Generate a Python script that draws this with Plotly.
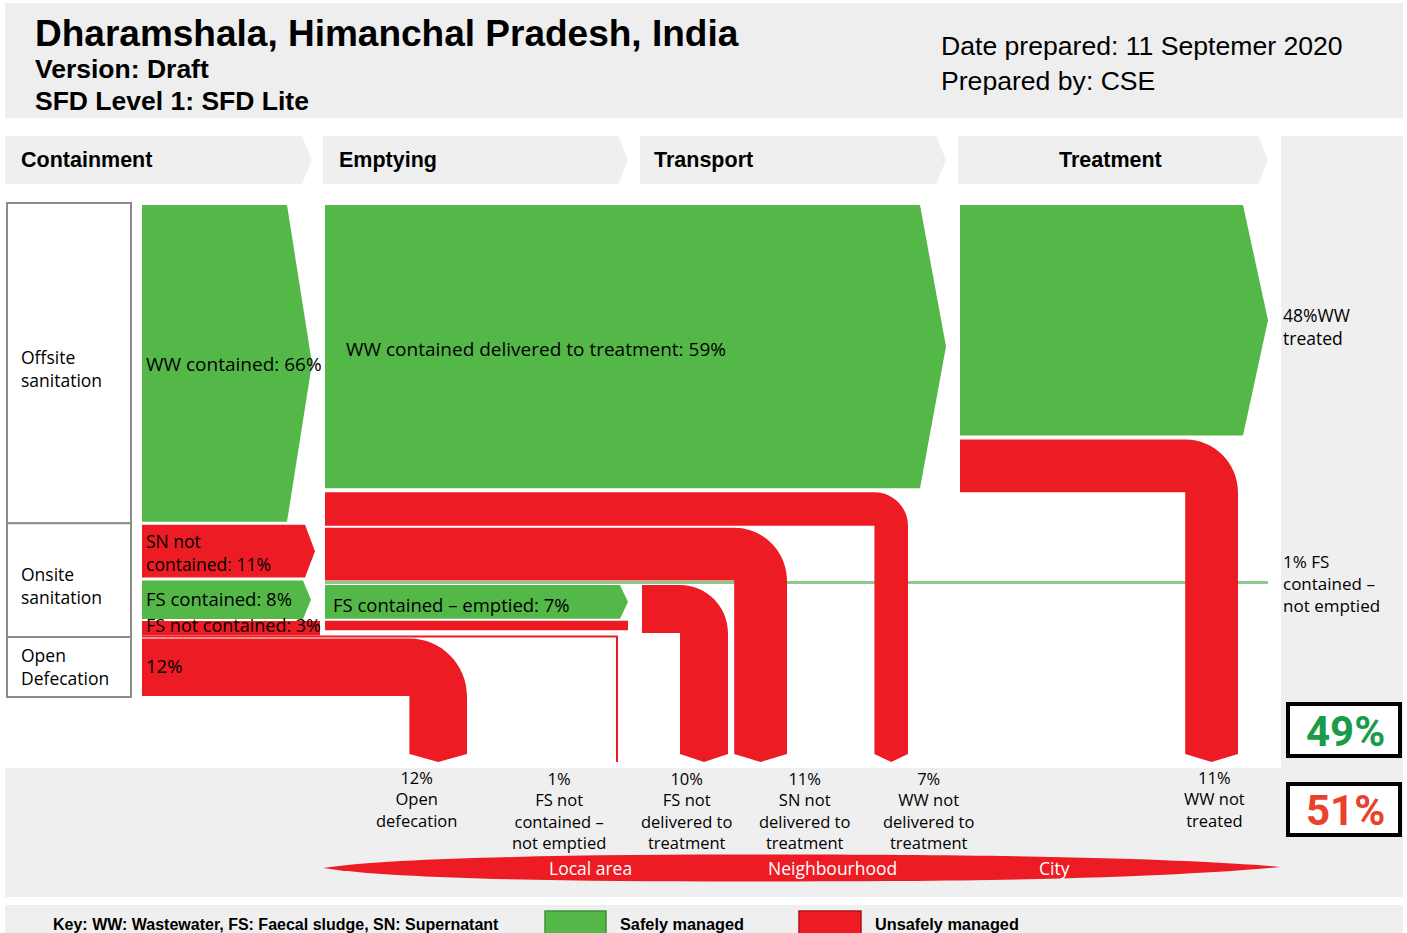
import plotly.graph_objects as go

# ---------------- DATA (percent of population) ----------------
ww_contained = 66
sn_not_contained = 11
fs_contained = 8
fs_not_contained = 3
open_defecation = 12

ww_delivered = 59
ww_not_delivered = 7
fs_emptied = 7
fs_nc_emptied = 2          # FS not contained that is emptied
fs_nc_not_emptied = 1
fs_c_not_emptied = 1

fs_not_delivered = 10
ww_treated = 48
ww_not_treated = 11

safely_managed = 49
unsafely_managed = 51

stage_names = ["Containment", "Emptying", "Transport", "Treatment"]
row_names = [["Offsite", "sanitation"], ["Onsite", "sanitation"], ["Open", "Defecation"]]
outcome_pcts = [open_defecation, fs_nc_not_emptied, fs_not_delivered,
                sn_not_contained, ww_not_delivered, ww_not_treated]
outcome_texts = [["Open", "defecation"],
                 ["FS not", "contained \u2013", "not emptied"],
                 ["FS not", "delivered to", "treatment"],
                 ["SN not", "delivered to", "treatment"],
                 ["WW not", "delivered to", "treatment"],
                 ["WW not", "treated"]]
area_names = ["Local area", "Neighbourhood", "City"]

# ---------------- LAYOUT CONSTANTS ----------------
W, H = 1407, 933
S = 4.8                      # pixels per percent
GREEN = "#54b848"
RED = "#ed1c24"
LGREY = "#efefef"
TITLE_FONT = "Liberation Sans, Arial, sans-serif"
LABEL_FONT = "Open Sans, Noto Sans, sans-serif"
BOLD_FONT = "Liberation Sans, Arial, sans-serif"
PIPE_END = 762

shapes = []
annotations = []


def rect(x0, y0, x1, y1, fill, line=None, lw=0):
    shapes.append(dict(type="rect", xref="x", yref="y", x0=x0, y0=y0, x1=x1, y1=y1,
                       fillcolor=fill, line=dict(color=line or fill, width=lw), layer="below"))


def path(d, fill, line_color=None, lw=0):
    shapes.append(dict(type="path", xref="x", yref="y", path=d, fillcolor=fill,
                       line=dict(color=line_color or fill, width=lw), layer="below"))


def arrow_right(x0, xb, xt, yt, yb, fill):
    ym = (yt + yb) / 2
    path(f"M {x0},{yt} L {xb},{yt} L {xt},{ym} L {xb},{yb} L {x0},{yb} Z", fill)


def pipe(x0, yt, pct, xo, fill=RED):
    t = pct * S
    yb = yt + t
    R = t
    k = 0.552 * R
    xi = xo - t
    d = (f"M {x0},{yt} L {xo - R},{yt} C {xo - R + k},{yt} {xo},{yt + R - k} {xo},{yt + R} "
         f"L {xo},{PIPE_END - 8} L {xo - t / 2},{PIPE_END} L {xi},{PIPE_END - 8} "
         f"L {xi},{yb} L {x0},{yb} Z")
    path(d, fill)
    return yb


def text(s, x, y, size, color="black", family=LABEL_FONT, anchor="left", bold=False):
    if bold:
        s = f"<b>{s}</b>"
    annotations.append(dict(text=s, x=x, y=y, xref="x", yref="y", showarrow=False,
                            xanchor=anchor, yanchor="middle", align=anchor,
                            font=dict(size=size, color=color, family=family)))


def mtext(lines, x, y_first, size, anchor="left", **kw):
    """Multi-line block; y_first is the centre of the first line."""
    n = len(lines)
    yc = y_first + (n - 1) * 1.3 * size / 2
    text("<br>".join(lines), x, yc, size, anchor=anchor, **kw)


# ---------------- BACKGROUND BANDS ----------------
rect(5, 3, 1403, 118, "#eeeeee")
rect(1281, 136, 1403, 768, LGREY)
rect(5, 768, 1403, 897, LGREY)
rect(5, 905, 1403, 933, LGREY)

# header text
text("Dharamshala, Himanchal Pradesh, India", 33, 33, 37, family=TITLE_FONT, bold=True)
text("Version: Draft", 33, 69, 26.5, family=TITLE_FONT, bold=True)
text("SFD Level 1: SFD Lite", 33, 101, 26.5, family=TITLE_FONT, bold=True)
text("Date prepared: 11 Septemer 2020", 939, 46, 26.6, family=TITLE_FONT)
text("Prepared by: CSE", 939, 81, 26.6, family=TITLE_FONT)

# stage header chevrons
stage_x = [(5, 312), (323, 628), (640, 946), (958, 1268)]
for (a, b), name in zip(stage_x, stage_names):
    arrow_right(a, b - 10, b, 136, 184, LGREY)
text(stage_names[0], 19, 160, 21.5, family=BOLD_FONT, bold=True)
text(stage_names[1], 337, 160, 21.5, family=BOLD_FONT, bold=True)
text(stage_names[2], 652, 160, 21.5, family=BOLD_FONT, bold=True)
text(stage_names[3], 1110, 160, 21.5, family=BOLD_FONT, bold=True, anchor="center")

# ---------------- CONTAINMENT ----------------
y = 205
y_ww = (y, y + ww_contained * S)
y = y_ww[1] + 3
y_sn = (y, y + sn_not_contained * S)
y = y_sn[1] + 3
y_fs = (y, y + fs_contained * S)
y = y_fs[1] + 2
y_fsn = (y, y + fs_not_contained * S)
y = y_fsn[1] + 3
y_od = (y, y + open_defecation * S)

# row label boxes
box_edges = [203, y_ww[1] + 1.5, y_fsn[1] + 1.5, y_od[1] + 1]
label_first = [357, 574, 655]
for i, lines in enumerate(row_names):
    rect(7, box_edges[i], 131, box_edges[i + 1], "white", "#8c8c8c", 2)
    mtext(lines, 19, label_first[i], 17.5)

arrow_right(142, 287, 312, y_ww[0], y_ww[1], GREEN)
arrow_right(142, 305, 315, y_sn[0], y_sn[1], RED)
arrow_right(142, 303, 311, y_fs[0], y_fs[1], GREEN)
rect(142, y_fsn[0], 320, y_fsn[1], RED)
# 1% FS not contained - not emptied (thin line)
ythin = y_fsn[1] + 1
path(f"M 142,{ythin} L 617,{ythin} L 617,{PIPE_END}", "rgba(0,0,0,0)", RED, 2)
# open defecation pipe
pipe(142, y_od[0], open_defecation, 467)

text(f"WW contained: {ww_contained}%", 144, 364, 19)
mtext(["SN not", f"contained: {sn_not_contained}%"], 144, 541, 17.5)
text(f"FS contained: {fs_contained}%", 144, 598, 18.5)
text(f"FS not contained: {fs_not_contained}%", 144, 625, 18)
text(f"{open_defecation}%", 144, 665, 18.5)

# ---------------- EMPTYING ----------------
y = 205
e_ww = (y, y + ww_delivered * S)
y = e_ww[1] + 4
e_wwn = y
y = y + ww_not_delivered * S + 2
e_sn = y
y_green_line = e_sn + sn_not_contained * S + 2
e_fs = (y_green_line + 2.5, y_green_line + 2.5 + fs_emptied * S)
e_fsn = (e_fs[1] + 2, e_fs[1] + 2 + fs_nc_emptied * S)

# 1% FS contained - not emptied line
shapes.append(dict(type="line", xref="x", yref="y", x0=325, x1=1268, y0=y_green_line,
                   y1=y_green_line, line=dict(color="#8cc98a", width=3), layer="below"))

arrow_right(325, 920, 946, e_ww[0], e_ww[1], GREEN)
pipe(325, e_wwn, ww_not_delivered, 908)
pipe(325, e_sn, sn_not_contained, 787)
arrow_right(325, 620, 628, e_fs[0], e_fs[1], GREEN)
rect(325, e_fsn[0], 628, e_fsn[1], RED)

text(f"WW contained delivered to treatment: {ww_delivered}%", 344, 349, 19)
text(f"FS contained \u2013 emptied: {fs_emptied}%", 331, 604, 18.5)

# ---------------- TRANSPORT ----------------
pipe(642, e_fs[0], fs_not_delivered, 728)

# ---------------- TREATMENT ----------------
t_ww = (205, 205 + ww_treated * S)
arrow_right(960, 1243, 1268, t_ww[0], t_ww[1], GREEN)
pipe(960, t_ww[1] + 4, ww_not_treated, 1238)

# right panel texts
mtext([f"{ww_treated}%WW", "treated"], 1281, 315, 17.5)
mtext([f"{fs_c_not_emptied}% FS", "contained \u2013", "not emptied"], 1281, 561, 17)

# summary boxes
shapes.append(dict(type="rect", xref="x", yref="y", x0=1288, x1=1400, y0=704, y1=756,
                   fillcolor="white", line=dict(color="black", width=4), layer="below"))
shapes.append(dict(type="rect", xref="x", yref="y", x0=1288, x1=1400, y0=784, y1=835,
                   fillcolor="white", line=dict(color="black", width=4), layer="below"))
text(f"{safely_managed}%", 1345, 731, 42, color="#1a9b4b", family="Roboto, sans-serif",
     anchor="center", bold=True)
text(f"{unsafely_managed}%", 1345, 810, 42, color="#e8412c", family="Roboto, sans-serif",
     anchor="center", bold=True)

# ---------------- OUTCOMES ----------------
outcome_x = [416, 559, 686, 804, 928, 1214]
for xc, pct, lines in zip(outcome_x, outcome_pcts, outcome_texts):
    mtext([f"{pct}%"] + lines, xc, 778, 16.5, anchor="center")

# red lens (local area -> city)
path("M 323,868 C 420,854 700,854 900,855 C 1100,856 1230,862 1280,867 "
     "C 1230,872 1100,880 900,881 C 700,882 420,883 323,868 Z", RED)
for xc, nm in zip([590, 832, 1054], area_names):
    text(nm, xc, 868, 17.5, color="white", anchor="center")

# ---------------- KEY ----------------
text("Key: WW: Wastewater, FS: Faecal sludge, SN: Supernatant", 51, 924, 16,
     family=BOLD_FONT, bold=True)
rect(545, 911, 606, 935, GREEN, "#3f8f3a", 1.5)
text("Safely managed", 618, 924, 16.3, family=BOLD_FONT, bold=True)
rect(799, 911, 861, 935, RED, "#b01218", 1.5)
text("Unsafely managed", 873, 924, 16.3, family=BOLD_FONT, bold=True)

fig = go.Figure()
fig.add_trace(go.Scatter(x=[0, W], y=[0, H], mode="markers", marker=dict(opacity=0),
                         hoverinfo="skip", showlegend=False))
fig.update_layout(
    width=W, height=H, margin=dict(l=0, r=0, t=0, b=0),
    paper_bgcolor="white", plot_bgcolor="white",
    xaxis=dict(range=[0, W], visible=False, fixedrange=True),
    yaxis=dict(range=[H, 0], visible=False, fixedrange=True),
    shapes=shapes, annotations=annotations, showlegend=False,
)
fig.write_html("out.html", config={"displayModeBar": False},
               post_script="document.body.style.margin='0px';")
